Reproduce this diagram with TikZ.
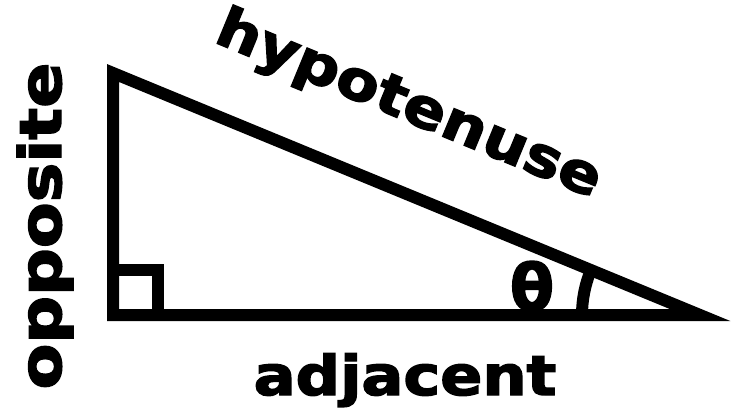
\documentclass[tikz,border=0pt]{standalone}
\usepackage{fontspec}
\setmainfont{DejaVu Sans}[BoldFeatures={FakeBold=2.5}]
\usepackage{tikz}
\usetikzlibrary{calc,positioning}
\newcommand{\wide}[1]{\scalebox{1.13}[1]{#1}}
\tikzset{
  side/.style={line width=12pt,line join=miter,black},
  lbl/.style={font=\fontsize{55}{60}\selectfont\bfseries,inner sep=0pt},
}

\begin{document}
\begin{tikzpicture}[x=1pt,y=1pt]
  \useasboundingbox (0,0) rectangle (738,413);
  \coordinate (top) at (113,340);
  \coordinate (rt) at (113,98);
  \coordinate (tip) at (700,98);

  % triangle
  \draw[side] (top) -- (rt) -- (tip) -- cycle;
  % right angle mark and angle arc
  \draw[side] ($(rt)+(0,45)$) -- ($(rt)+(45,45)$) -- ($(rt)+(45,0)$);
  \draw[side] ($(tip)+(-118,0)$) arc[start angle=180,end angle=157.6,radius=118];

  \node[lbl,font=\fontsize{64}{70}\selectfont\bfseries] (theta) at (532,127) {θ};
  \path (top) -- node[lbl,sloped,pos=0.45,yshift=82pt] (hyp) {\wide{hypotenuse}} (tip);
  \node[lbl,anchor=base] (adj) at (405,18) {\wide{adjacent}};
  \node[lbl,anchor=base,rotate=90,font=\fontsize{58}{62}\selectfont\bfseries] (opp) at (61,187) {\scalebox{1.15}[1]{opposite}};
\end{tikzpicture}
\end{document}
